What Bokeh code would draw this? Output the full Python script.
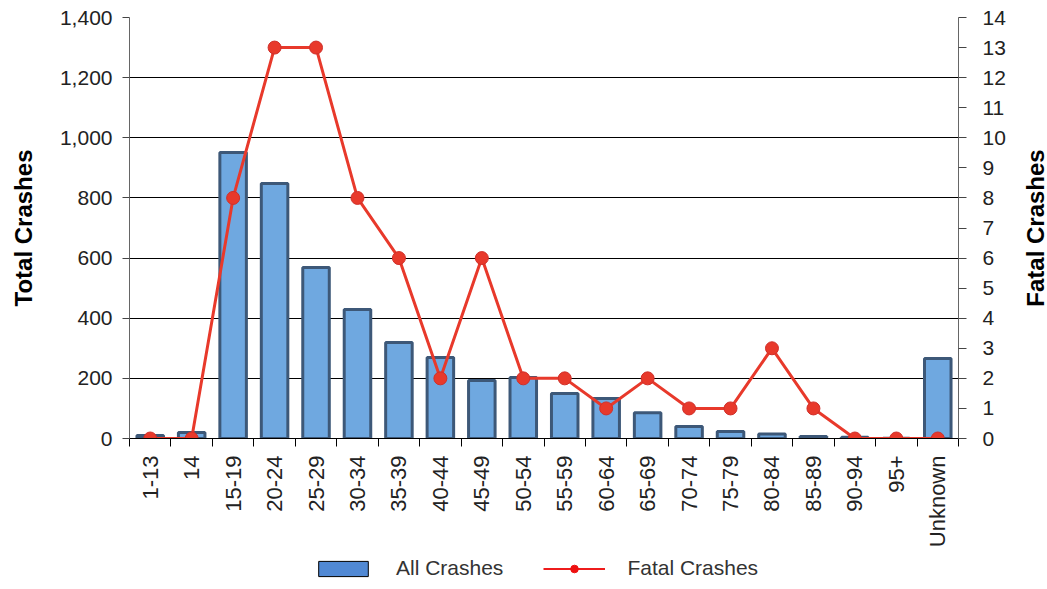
import math
from bokeh.plotting import figure
from bokeh.layouts import row, column
from bokeh.models import (Range1d, LinearAxis, FixedTicker, NumeralTickFormatter,
                          Legend, LegendItem, ColumnDataSource)
from bokeh.embed import file_html
from bokeh.resources import INLINE

categories = ["1-13", "14", "15-19", "20-24", "25-29", "30-34", "35-39", "40-44", "45-49",
              "50-54", "55-59", "60-64", "65-69", "70-74", "75-79", "80-84", "85-89",
              "90-94", "95+", "Unknown"]
all_crashes = [10, 20, 951, 848, 569, 429, 319, 269, 193, 203, 150, 133, 86, 40, 23, 15, 7, 4, 1, 266]
fatal_crashes = [0, 0, 8, 13, 13, 8, 6, 2, 6, 2, 2, 1, 2, 1, 1, 3, 1, 0, 0, 0]
left_ticks = [0, 200, 400, 600, 800, 1000, 1200, 1400]
right_ticks = list(range(0, 15))

FONT = "Liberation Sans"
TXT = "#222222"
BAR_FILL, BAR_LINE = "#6fa8e0", "#3d5878"
RED = "#e8392b"

n = len(categories)
centers = [i + 0.5 for i in range(n)]          # category slot centres
edges = [float(i) for i in range(n + 1)]        # category slot boundaries

src = ColumnDataSource(dict(x=centers, cat=categories, total=all_crashes, fatal=fatal_crashes))

# ---------------- main chart ----------------
p = figure(x_range=Range1d(0, n), y_range=Range1d(0, left_ticks[-1]),
           frame_width=829, frame_height=421, output_backend="svg", toolbar_location=None,
           x_axis_location="below", y_axis_location="left",
           min_border_left=129, min_border_right=44, min_border_top=17, min_border_bottom=0)
p.outline_line_color = None
p.background_fill_color = "white"
p.extra_y_ranges = {"fatal": Range1d(0, right_ticks[-1])}

p.vbar(x="x", top="total", width=0.64, source=src,
       fill_color=BAR_FILL, line_color=BAR_LINE, line_width=3)
p.line(x="x", y="fatal", source=src, y_range_name="fatal", line_color=RED, line_width=3)
p.scatter(x="x", y="fatal", source=src, y_range_name="fatal",
          size=13, fill_color=RED, line_color="#d0302a", line_width=1)

ya = p.yaxis[0]
ya.ticker = FixedTicker(ticks=left_ticks)
ya.formatter = NumeralTickFormatter(format="0,0")
ya.axis_label = "Total Crashes"
ya.axis_label_text_font = FONT
ya.axis_label_text_font_style = "bold"
ya.axis_label_text_font_size = "24px"
ya.axis_label_text_color = "black"
ya.axis_label_standoff = 20
ya.major_label_text_font = FONT
ya.major_label_text_font_size = "21px"
ya.major_label_text_color = TXT
ya.major_label_standoff = 10
ya.major_tick_out = 7
ya.major_tick_in = 0
ya.minor_tick_line_color = None
ya.axis_line_color = "#666666"
ya.major_tick_line_color = "#444444"

ra = LinearAxis(y_range_name="fatal", ticker=FixedTicker(ticks=right_ticks))
ra.major_label_text_font = FONT
ra.major_label_text_font_size = "21px"
ra.major_label_text_color = TXT
ra.major_label_standoff = 16
ra.major_tick_out = 8
ra.major_tick_in = 0
ra.minor_tick_line_color = None
ra.axis_line_color = "#666666"
ra.major_tick_line_color = "#444444"
p.add_layout(ra, "right")

xa = p.xaxis[0]
xa.ticker = FixedTicker(ticks=centers, minor_ticks=edges)
xa.major_label_overrides = {c: lab for c, lab in zip(centers, categories)}
xa.major_tick_line_color = None
xa.major_tick_out = 0
xa.major_tick_in = 0
xa.minor_tick_out = 8
xa.minor_tick_in = 0
xa.minor_tick_line_color = "black"
xa.axis_line_color = "black"
xa.major_label_standoff = 9
xa.major_label_orientation = math.pi / 2
xa.major_label_text_font = FONT
xa.major_label_text_font_size = "22px"
xa.major_label_text_color = TXT

p.xgrid.grid_line_color = None
p.ygrid.ticker = FixedTicker(ticks=left_ticks[1:])
p.ygrid.grid_line_color = "black"
p.ygrid.grid_line_width = 1

# ---------------- right axis title (reads bottom-to-top) ----------------
t = figure(x_range=Range1d(0, 1), y_range=Range1d(0, right_ticks[-1]),
           frame_width=1, frame_height=421, output_backend="svg", toolbar_location=None,
           x_axis_location=None, y_axis_location="left",
           min_border_left=40, min_border_right=0, min_border_top=17, min_border_bottom=0)
t.outline_line_color = None
t.xgrid.grid_line_color = None
t.ygrid.grid_line_color = None
ty = t.yaxis[0]
ty.ticker = FixedTicker(ticks=[])
ty.axis_line_color = None
ty.major_tick_line_color = None
ty.minor_tick_line_color = None
ty.major_tick_out = 0
ty.axis_label = "Fatal Crashes"
ty.axis_label_text_font = FONT
ty.axis_label_text_font_style = "bold"
ty.axis_label_text_font_size = "24px"
ty.axis_label_text_color = "black"
ty.axis_label_standoff = 0

# ---------------- legend strip (proxy renderers lie outside its view) ----------------
lg = figure(x_range=Range1d(-3, -2), y_range=Range1d(0, 1),
            width=1006, height=36, output_backend="svg", toolbar_location=None,
            x_axis_location=None, y_axis_location=None,
            min_border_left=0, min_border_right=0, min_border_top=0, min_border_bottom=0)
lg.outline_line_color = None
lg.xgrid.grid_line_color = None
lg.ygrid.grid_line_color = None
lbar = lg.vbar(x="x", top="total", width=0.64, source=src,
               fill_color="#5189d4", line_color="black", line_width=1)
lline = lg.line(x="x", y="fatal", source=src, line_color="#ee1c1c", line_width=2)
ldot = lg.scatter(x="x", y="fatal", source=src, size=12,
                  fill_color="#ee1111", line_color="#ee1111")

legend = Legend(items=[LegendItem(label="All Crashes", renderers=[lbar]),
                       LegendItem(label="Fatal Crashes", renderers=[lline, ldot])],
                orientation="horizontal", location=(312, 6))
legend.border_line_color = None
legend.background_fill_alpha = 0
legend.label_text_font = FONT
legend.label_text_font_size = "21px"
legend.label_text_color = "#333333"
legend.glyph_width = 62
legend.glyph_height = 19
legend.label_standoff = 22
legend.spacing = 40
legend.padding = 0
legend.margin = 0
lg.add_layout(legend)

layout = column(row(p, t), lg)
open("out.html", "w").write(file_html(layout, INLINE))
